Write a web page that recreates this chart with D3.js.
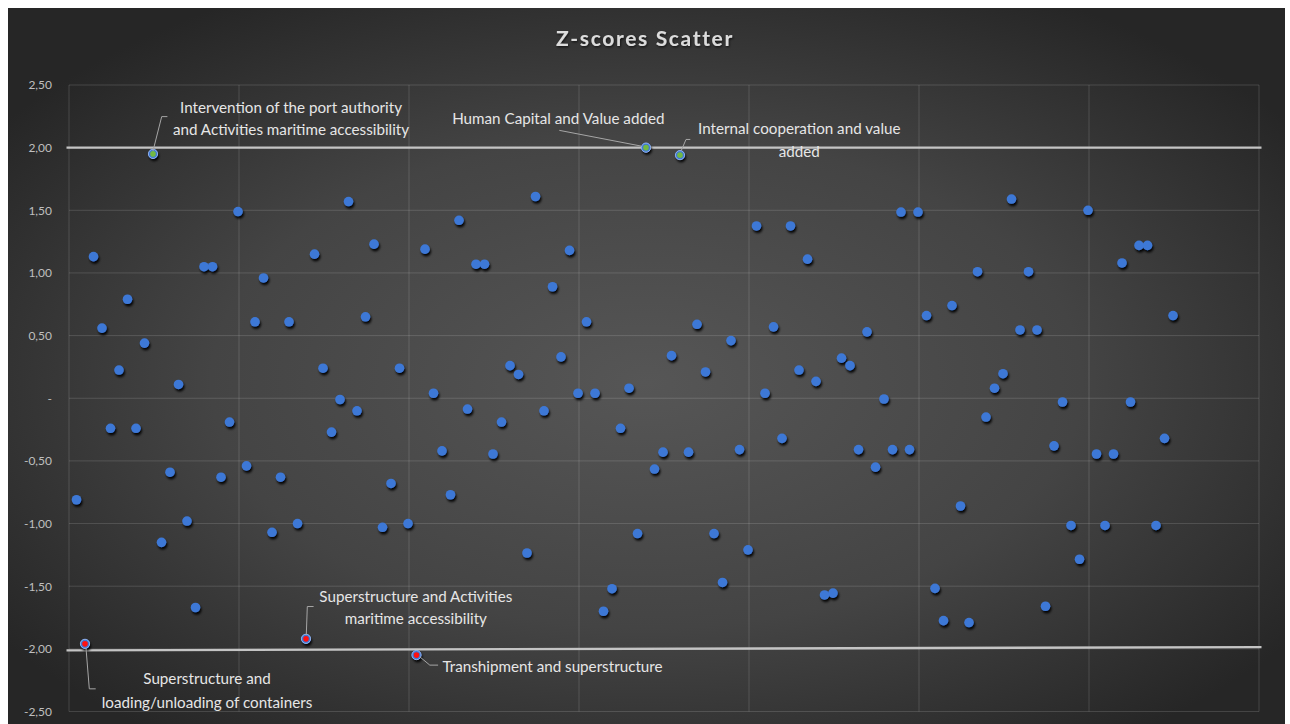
<!DOCTYPE html>
<html><head><meta charset="utf-8">
<script src="https://cdn.jsdelivr.net/npm/d3@7"></script>
<style>
html,body{margin:0;padding:0;background:#ffffff;}
svg{display:block;}
</style></head><body>
<svg id="chart" width="1290" height="724"></svg>
<script>
// ---------------- DATA ----------------
const chartTitle = "Z-scores Scatter";
// z-score of each pair, in order (x = 1..130)
const zScores = [
 -0.81, -1.96, 1.13, 0.56, -0.24, 0.225, 0.79, -0.24, 0.44, 1.95,
 -1.15, -0.59, 0.11, -0.98, -1.67, 1.05, 1.05, -0.63, -0.19, 1.49,
 -0.54, 0.61, 0.96, -1.07, -0.63, 0.61, -1.00, -1.92, 1.15, 0.24,
 -0.27, -0.01, 1.57, -0.10, 0.65, 1.23, -1.03, -0.68, 0.24, -1.00,
 -2.05, 1.19, 0.04, -0.42, -0.77, 1.42, -0.086, 1.07, 1.07, -0.445,
 -0.19, 0.26, 0.19, -1.235, 1.61, -0.10, 0.89, 0.33, 1.18, 0.04,
 0.61, 0.04, -1.70, -1.52, -0.24, 0.08, -1.08, 2.00, -0.565, -0.43,
 0.34, 1.94, -0.43, 0.59, 0.21, -1.08, -1.47, 0.46, -0.41, -1.21,
 1.375, 0.04, 0.57, -0.32, 1.375, 0.225, 1.11, 0.135, -1.57, -1.555,
 0.32, 0.26, -0.41, 0.53, -0.55, -0.006, -0.41, 1.486, -0.41, 1.486,
 0.66, -1.517, -1.775, 0.74, -0.86, -1.79, 1.01, -0.15, 0.08, 0.196,
 1.59, 0.545, 1.01, 0.545, -1.66, -0.38, -0.03, -1.015, -1.285, 1.50,
 -0.445, -1.015, -0.445, 1.08, -0.03, 1.22, 1.22, -1.015, -0.32, 0.66
];
// annotated extreme pairs (1-based position) and their labels
const annotatedIndex = [10, 68, 72, 28, 2, 41];
const annotatedKind  = ["high", "high", "high", "low", "low", "low"];
const annotatedText  = [
 ["Intervention of the port authority", "and Activities maritime accessibility"],
 ["Human Capital and Value added"],
 ["Internal cooperation and value", "added"],
 ["Superstructure and Activities", "maritime accessibility"],
 ["Superstructure and", "loading/unloading of containers"],
 ["Transhipment and superstructure"]
];
const yTickValues = [2.5, 2, 1.5, 1, 0.5, 0, -0.5, -1, -1.5, -2, -2.5];
const yTickLabels = ["2,50", "2,00", "1,50", "1,00", "0,50", "-", "-0,50", "-1,00", "-1,50", "-2,00", "-2,50"];
const xTickValues = [0, 20, 40, 60, 80, 100, 120, 140];
const thresholdStart = [2, -2.012];
const thresholdEnd   = [2, -1.986];

// ---------------- LAYOUT ----------------
const W = 1290, H = 724;
const plot = {left: 69, right: 1259, top: 85, bottom: 711.5};
// label placement relative to the marked point (pixels)
const labelLayout = [
 {dx: 138, dy: [-47.3, -24.7], anchor: "middle", leader: [[0,-3],[8.7,-37.3],[14.4,-37.3]]},
 {dx: -87.7, dy: [-30], anchor: "middle", leader: [[-5,-1.6],[-86.7,-17.3]]},
 {dx: 119.3, dy: [-26.7, -4], anchor: "middle", leader: [[1.3,-4.7],[6,-15.7],[10.3,-15.7]]},
 {dx: 109.8, dy: [-43, -20.7], anchor: "middle", leader: [[0.3,-4],[1.3,-32.3],[7.6,-32.3]]},
 {dx: 122, dy: [34.3, 57.7], anchor: "middle", leader: [[1,4.3],[4.3,45],[10.7,45]]},
 {dx: 26, dy: [10.7], anchor: "start", leader: [[3.3,1.7],[13.3,10],[21.6,10]]}
];
const fontFamily = "Lato, 'Open Sans', sans-serif";

const svg = d3.select("#chart");
const defs = svg.append("defs");
const grad = defs.append("radialGradient").attr("id", "bg")
  .attr("cx", "50%").attr("cy", "52%").attr("r", "62%");
grad.append("stop").attr("offset", "0%").attr("stop-color", "#565656");
grad.append("stop").attr("offset", "55%").attr("stop-color", "#444444");
grad.append("stop").attr("offset", "100%").attr("stop-color", "#262626");

const shadow = defs.append("filter").attr("id", "shadow")
  .attr("x", "-60%").attr("y", "-60%").attr("width", "220%").attr("height", "220%");
shadow.append("feDropShadow").attr("dx", 1.2).attr("dy", 2.4)
  .attr("stdDeviation", 1.1).attr("flood-color", "#000").attr("flood-opacity", 0.95);

const tshadow = defs.append("filter").attr("id", "tshadow")
  .attr("x", "-10%").attr("y", "-30%").attr("width", "120%").attr("height", "160%");
tshadow.append("feDropShadow").attr("dx", 0.8).attr("dy", 1.2)
  .attr("stdDeviation", 1.2).attr("flood-color", "#000").attr("flood-opacity", 0.7);

svg.append("rect").attr("x", 8).attr("y", 8).attr("width", 1277).attr("height", 720)
  .attr("fill", "url(#bg)");

const x = d3.scaleLinear().domain([0, 140]).range([plot.left, plot.right]);
const y = d3.scaleLinear().domain([-2.5, 2.5]).range([plot.bottom, plot.top]);

// gridlines
const grid = svg.append("g");
grid.selectAll("line.h").data(yTickValues).join("line").attr("class", "h")
  .attr("x1", plot.left).attr("x2", plot.right)
  .attr("y1", d => y(d)).attr("y2", d => y(d))
  .attr("stroke", "#ffffff").attr("stroke-opacity", 0.14).attr("stroke-width", 1);
grid.selectAll("line.v").data(xTickValues).join("line").attr("class", "v")
  .attr("x1", d => x(d)).attr("x2", d => x(d))
  .attr("y1", plot.top).attr("y2", plot.bottom)
  .attr("stroke", "#ffffff").attr("stroke-opacity", 0.14).attr("stroke-width", 1);

// y axis labels
const yAxis = d3.axisLeft(y).tickValues(yTickValues)
  .tickFormat((d, i) => yTickLabels[i]).tickSize(0).tickPadding(17);
const ya = svg.append("g").attr("transform", `translate(${plot.left},0)`).call(yAxis);
ya.select(".domain").remove();
ya.selectAll("text").attr("fill", "#bfbfbf").attr("font-family", fontFamily)
  .attr("font-size", 12);

// threshold lines
svg.selectAll("line.thr").data(thresholdStart).join("line").attr("class", "thr")
  .attr("x1", x(0) - 2.5).attr("x2", x(140) + 2.5)
  .attr("y1", d => y(d)).attr("y2", (d, i) => y(thresholdEnd[i]))
  .attr("stroke", "#c4c4c4").attr("stroke-width", 2.4);

// title
svg.append("text").attr("x", 645).attr("y", 37.5).attr("text-anchor", "middle")
  .attr("dominant-baseline", "central").attr("filter", "url(#tshadow)")
  .attr("font-family", fontFamily).attr("font-weight", "bold")
  .attr("font-size", 21).attr("letter-spacing", 1.65).attr("fill", "#dcdcdc")
  .text(chartTitle);

// points
const pts = zScores.map((v, i) => ({x: i + 1, y: v}));
svg.append("g").attr("filter", "url(#shadow)")
  .selectAll("circle").data(pts).join("circle")
  .attr("cx", d => x(d.x) - 1).attr("cy", d => y(d.y)).attr("r", 4.8)
  .attr("fill", "#3e78d6");

// highlighted points
const hl = annotatedIndex.map((idx, k) => ({x: idx, y: zScores[idx - 1], kind: annotatedKind[k]}));
const hg = svg.append("g");
hg.selectAll("circle.ring").data(hl).join("circle").attr("class", "ring")
  .attr("cx", d => x(d.x) - 1).attr("cy", d => y(d.y)).attr("r", 4.6)
  .attr("fill", "#3e78d6").attr("stroke", "#9db8ea").attr("stroke-width", 0.9);
hg.selectAll("circle.core").data(hl).join("circle").attr("class", "core")
  .attr("cx", d => x(d.x) - 1).attr("cy", d => y(d.y)).attr("r", 2.8)
  .attr("fill", d => d.kind === "high" ? "#72b843" : "#ff1010");

// annotations
const ag = svg.append("g");
hl.forEach((p, k) => {
  const L = labelLayout[k];
  const px = x(p.x) - 1, py = y(p.y);
  ag.append("path")
    .attr("d", d3.line()(L.leader.map(o => [px + o[0], py + o[1]])))
    .attr("fill", "none").attr("stroke", "#a6a6a6").attr("stroke-width", 1);
  annotatedText[k].forEach((line, j) => {
    ag.append("text").attr("x", px + L.dx).attr("y", py + L.dy[j])
      .attr("text-anchor", L.anchor).attr("dominant-baseline", "central")
      .attr("font-family", fontFamily).attr("font-size", 15.2)
      .attr("fill", "#e6e6e6").text(line);
  });
});
</script>
</body></html>
